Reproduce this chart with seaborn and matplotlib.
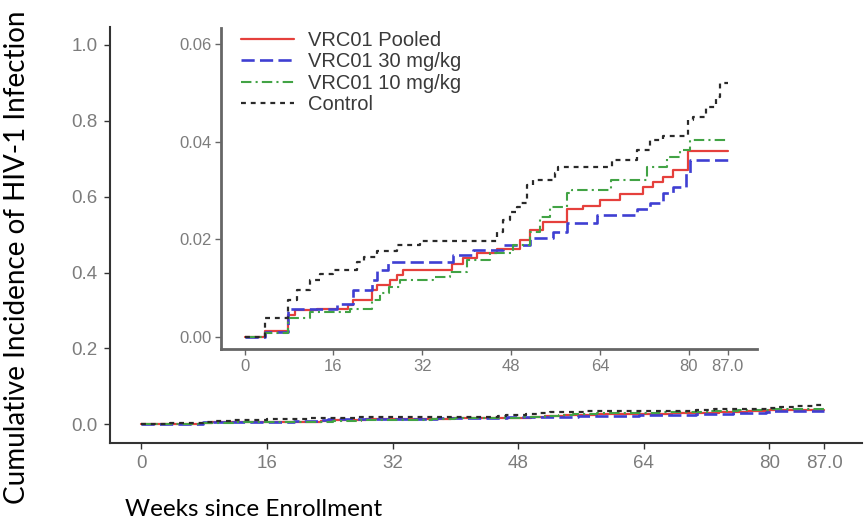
import matplotlib
matplotlib.use("Agg")
import matplotlib.pyplot as plt
import pandas as pd
import seaborn as sns

# Kaplan-Meier style cumulative incidence (step changes), weeks since enrollment
weeks_pooled = [0, 3.7, 7.9, 9, 13, 18.7, 19.5, 22.9, 23.8, 26.2, 27.4, 28.6, 37.3,
                39.4, 41.8, 45.4, 49.6, 51.4, 53.8, 58, 61, 64, 67.6, 71.8, 73.6,
                75.4, 77.2, 79.9, 87]
inc_pooled = [0, 0.0012, 0.0045, 0.0055, 0.0058, 0.0065, 0.0075, 0.0096, 0.0106,
              0.0116, 0.0127, 0.0137, 0.0150, 0.0161, 0.0171, 0.0181, 0.0198, 0.0219,
              0.0236, 0.0263, 0.0268, 0.0280, 0.0293, 0.0308, 0.0318, 0.0328, 0.0342,
              0.0380, 0.0380]

weeks_30 = [0, 3.7, 7.9, 16.6, 19.5, 22.9, 23.8, 25.9, 37.6, 41.2, 46.6, 51.4, 55.6,
            58, 63.4, 70.6, 73, 75.4, 77.2, 79.6, 80.2, 87]
inc_30 = [0, 0.0010, 0.0058, 0.0068, 0.0096, 0.0116, 0.0137, 0.0154, 0.0168, 0.0178,
          0.0188, 0.0202, 0.0215, 0.0233, 0.0250, 0.0263, 0.0274, 0.0294, 0.0308,
          0.0335, 0.0362, 0.0362]

weeks_10 = [0, 3.7, 7.9, 11.8, 19, 22.9, 24.4, 26, 28, 34, 37, 40, 44.2, 48.4, 51.4,
            53.2, 55, 58, 59, 66, 72.4, 76, 78.4, 80.2, 87]
inc_10 = [0, 0.0008, 0.0038, 0.0051, 0.0058, 0.0075, 0.0089, 0.0102, 0.0116, 0.0123,
          0.0133, 0.0157, 0.0171, 0.0188, 0.0215, 0.0246, 0.0267, 0.0294, 0.0301,
          0.0322, 0.0349, 0.0369, 0.0383, 0.0403, 0.0403]

weeks_control = [0, 3.7, 7.9, 9.5, 11.8, 13.5, 16, 20.2, 21.5, 23.8, 27.5, 31.6, 45.4,
                 46.5, 47.8, 49, 49.8, 50.8, 52, 55.9, 56.5, 66.1, 70.6, 73, 75.4,
                 79.9, 80.8, 83.2, 85, 85.6, 87]
inc_control = [0, 0.0038, 0.0075, 0.0095, 0.0116, 0.0128, 0.0137, 0.0154, 0.0164,
               0.0176, 0.0188, 0.0197, 0.0215, 0.0239, 0.0255, 0.0266, 0.0274, 0.0311,
               0.0321, 0.0335, 0.0349, 0.0362, 0.0383, 0.0403, 0.0412, 0.0444, 0.0451,
               0.0472, 0.0492, 0.0520, 0.0520]

group_names = ["VRC01 Pooled", "VRC01 30 mg/kg", "VRC01 10 mg/kg", "Control"]
group_weeks = [weeks_pooled, weeks_30, weeks_10, weeks_control]
group_inc = [inc_pooled, inc_30, inc_10, inc_control]

x_ticks = [0, 16, 32, 48, 64, 80, 87]
x_tick_labels = ["0", "16", "32", "48", "64", "80", "87.0"]
main_y_ticks = [0.0, 0.2, 0.4, 0.6, 0.8, 1.0]
main_y_labels = ["0.0", "0.2", "0.4", "0.6", "0.8", "1.0"]
inset_y_ticks = [0.00, 0.02, 0.04, 0.06]
inset_y_labels = ["0.00", "0.02", "0.04", "0.06"]

df = pd.concat(
    [pd.DataFrame({"week": w, "incidence": v, "group": g})
     for g, w, v in zip(group_names, group_weeks, group_inc)],
    ignore_index=True,
)

line_styles = {
    "VRC01 Pooled": dict(color="#e5403c", linestyle="-", linewidth=1.6),
    "VRC01 30 mg/kg": dict(color="#3f3fd2", linestyle=(0, (5, 2)), linewidth=1.9),
    "VRC01 10 mg/kg": dict(color="#42a345", linestyle=(0, (5, 2, 1, 2)), linewidth=1.5),
    "Control": dict(color="#2a2a2a", linestyle=(0, (2.2, 2.2)), linewidth=1.6),
}

sns.set_theme(style="ticks")
plt.rcParams["font.family"] = ["Liberation Sans", "DejaVu Sans"]

fig = plt.figure(figsize=(8.65, 5.2), dpi=100)
W, H = 865, 520
ax = fig.add_axes([110 / W, 77 / H, 752 / W, 416 / H])
ins = fig.add_axes([221 / W, 171 / H, 536 / W, 321 / H])

TICK_GREY = "#7c7c7c"


def draw_curves(target):
    for name in group_names:
        sub = df[df["group"] == name]
        sns.lineplot(data=sub, x="week", y="incidence", ax=target,
                     drawstyle="steps-post", estimator=None, sort=False,
                     legend=False, label=name, **line_styles[name])


def style_axes(target, spine_color, spine_width, tick_size, pad):
    sns.despine(ax=target)
    for side in ("left", "bottom"):
        target.spines[side].set_color(spine_color)
        target.spines[side].set_linewidth(spine_width)
    target.tick_params(axis="both", colors=spine_color, labelcolor=TICK_GREY,
                       labelsize=tick_size, length=4, width=1.0, pad=pad)
    target.set_xlabel("")
    target.set_ylabel("")


# full-scale panel
draw_curves(ax)
ax.set_xlim(-4.0, 91.8)
ax.set_ylim(-0.049, 1.047)
ax.set_xticks(x_ticks, x_tick_labels)
ax.set_yticks(main_y_ticks, main_y_labels)
style_axes(ax, "#333333", 1.5, 13.5, 5)

label_font = ["Lato", "DejaVu Sans"]
ax.set_xlabel("Weeks since Enrollment", fontsize=17.5, family=label_font,
              color="black", ha="left", va="center")
ax.xaxis.set_label_coords(0.020, -0.161)
ax.set_ylabel("Cumulative Incidence of HIV-1 Infection", fontsize=20,
              family=label_font, color="black", ha="center", va="center")
ax.yaxis.set_label_coords(-0.1237, 0.446)

# zoomed inset panel
draw_curves(ins)
ins.set_facecolor("white")
ins.set_xlim(-4.25, 92.3)
ins.set_ylim(-0.0025, 0.0633)
ins.set_xticks(x_ticks, x_tick_labels)
ins.set_yticks(inset_y_ticks, inset_y_labels)
style_axes(ins, "#666666", 2.0, 12, 3)

leg = ins.legend(loc="upper left", bbox_to_anchor=(0.038, 0.99), frameon=False,
                 fontsize=14.5, handlelength=2.6, handletextpad=0.7,
                 labelspacing=0.11, borderpad=0, borderaxespad=0)
for t in leg.get_texts():
    t.set_color("#3a3a3a")

fig.savefig("out.png", dpi=100, facecolor="white")
